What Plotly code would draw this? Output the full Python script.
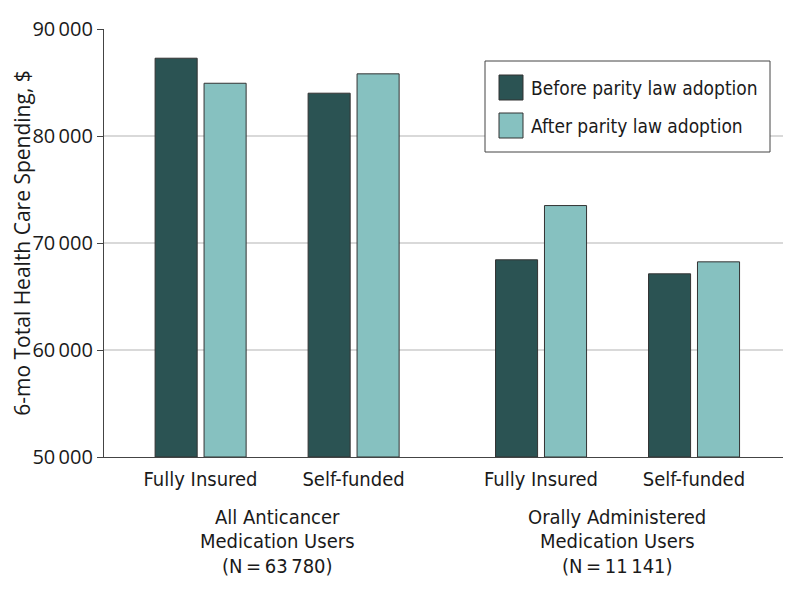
import plotly.graph_objects as go

# ---- data ----
categories = ["Fully Insured", "Self-funded", "Fully Insured", "Self-funded"]
groups = [["All Anticancer", "Medication Users", "(N\u2009=\u200963\u2009780)"],
          ["Orally Administered", "Medication Users", "(N\u2009=\u200911\u2009141)"]]
before = [87270, 84000, 68430, 67120]
after = [84930, 85810, 73500, 68240]
series_names = ["Before parity law adoption", "After parity law adoption"]
y_ticks = [50000, 60000, 70000, 80000, 90000]
y_tick_labels = ["50\u2009000", "60\u2009000", "70\u2009000", "80\u2009000", "90\u2009000"]

# ---- layout helpers ----
OFF = 8  # default page body margin
W, H = 798, 595
# plot area in page pixels: left 104, right 783, top 29, bottom 457
ML = 104 - OFF
MT = 29 - OFF
MR = W - (783 - OFF)
MB = H - (457 - OFF)
group_gap = 0.225
xpos = [0, 1, 1 + 1 + group_gap, 2 + 1 + group_gap]
bar_w = 0.275
dark = "#2b5353"
light = "#86c1c0"
edge = "#333333"
cond_font = "Liberation Sans Narrow, DejaVu Sans Condensed, Roboto, sans-serif"
reg_font = "Open Sans, sans-serif"

def px_x(p):
    return (p - OFF - ML) / (W - ML - MR)

def px_y(p):
    return (H - MB - (p - OFF)) / (H - MT - MB)

fig = go.Figure()
fig.add_trace(go.Bar(x=xpos, y=[v - 50000 for v in before], base=50000, width=bar_w, offset=-0.297,
                     marker=dict(color=dark, line=dict(color=edge, width=1)),
                     name=series_names[0], showlegend=False))
fig.add_trace(go.Bar(x=xpos, y=[v - 50000 for v in after], base=50000, width=bar_w, offset=0.023,
                     marker=dict(color=light, line=dict(color=edge, width=1)),
                     name=series_names[1], showlegend=False))

fig.update_layout(
    width=W, height=H,
    margin=dict(l=ML, r=MR, t=MT, b=MB, autoexpand=False),
    paper_bgcolor="white", plot_bgcolor="white",
    barmode="overlay",
    font=dict(family=reg_font, size=18, color="#1a1a1a"),
)
fig.update_xaxes(range=[-0.631, 3.807], tickvals=xpos, ticktext=categories,
                 tickfont=dict(family=cond_font, size=20, color="#1a1a1a"),
                 showgrid=False, zeroline=False, showline=True, linecolor="#444", linewidth=1.2,
                 ticks="", ticklabelstandoff=4, automargin=False)
fig.update_yaxes(range=[50000, 90000], tickvals=y_ticks, ticktext=y_tick_labels,
                 tickfont=dict(family=reg_font, size=20, color="#1a1a1a"),
                 showgrid=True, gridcolor="#d9d9d9", gridwidth=1.5, zeroline=False,
                 showline=True, linecolor="#444", linewidth=1.2,
                 ticks="outside", ticklen=6, tickcolor="#444", automargin=False,
                 title=dict(text="6-mo Total Health Care Spending, $", standoff=12,
                            font=dict(family=reg_font, size=21, color="#1a1a1a")))

# group labels
line_y = [517, 541, 566]
for gi, g in enumerate(groups):
    cx = (xpos[2 * gi] + xpos[2 * gi + 1]) / 2
    for ly, txt in zip(line_y, g):
        fig.add_annotation(x=cx, xref="x", y=px_y(ly), yref="paper", yanchor="middle",
                           text=txt, showarrow=False, align="center",
                           font=dict(family=cond_font, size=20, color="#1a1a1a"))

# custom legend
fig.add_shape(type="rect", xref="paper", yref="paper",
              x0=px_x(485), x1=px_x(770), y0=px_y(61), y1=px_y(152),
              line=dict(color="#444", width=1), fillcolor="white", layer="above")
for i, (nm, col) in enumerate(zip(series_names, [dark, light])):
    top = 75 + i * 38
    fig.add_shape(type="rect", xref="paper", yref="paper",
                  x0=px_x(499), x1=px_x(523), y0=px_y(top), y1=px_y(top + 25),
                  line=dict(color=edge, width=1), fillcolor=col, layer="above")
    fig.add_annotation(x=px_x(529), xref="paper", y=px_y(top + 12.5), yref="paper",
                       xanchor="left", yanchor="middle", text=nm, showarrow=False,
                       font=dict(family=cond_font, size=19, color="#1a1a1a"))

fig.write_html("out.html")
